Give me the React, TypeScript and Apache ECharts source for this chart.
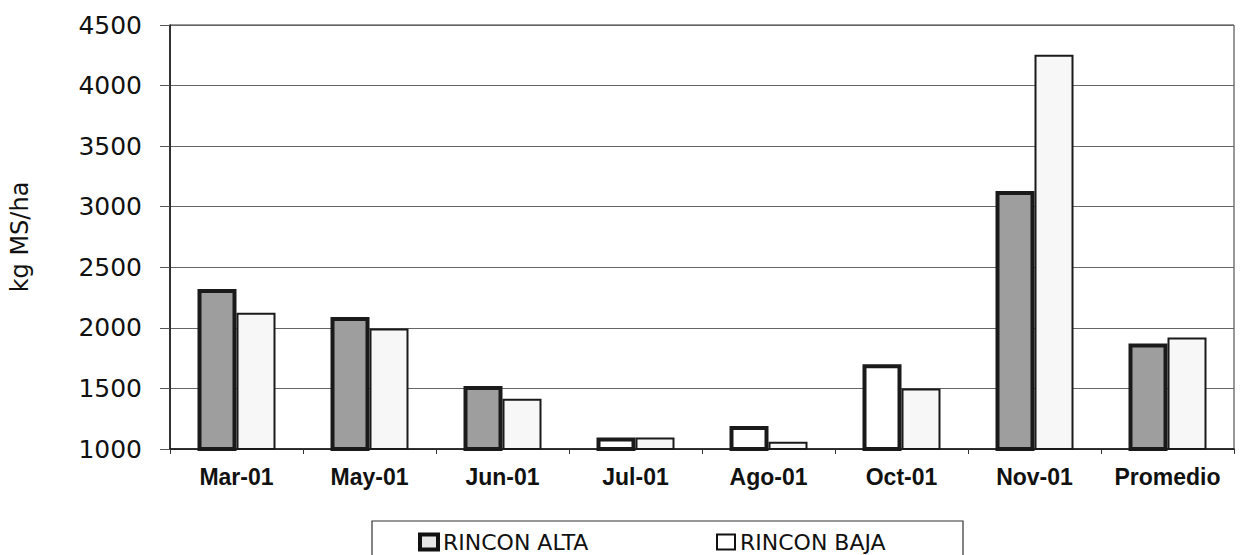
import React, { useEffect, useRef } from 'react';
import * as echarts from 'echarts';

const categories = ['Mar-01', 'May-01', 'Jun-01', 'Jul-01', 'Ago-01', 'Oct-01', 'Nov-01', 'Promedio'];
const rinconAlta = [2320, 2090, 1520, 1095, 1190, 1700, 3130, 1870];
const rinconBaja = [2125, 1995, 1415, 1095, 1060, 1500, 4255, 1920];
const hollowAltaCategories = ['Jul-01', 'Ago-01', 'Oct-01'];
const yMin = 1000;
const yMax = 4500;
const yStep = 500;

export default function App() {
  const ref = useRef<HTMLDivElement>(null);

  useEffect(() => {
    const chart = echarts.init(ref.current as HTMLDivElement, null, { renderer: 'svg' });
    chart.setOption({
      animation: false,
      backgroundColor: '#ffffff',
      grid: {
        left: 168,
        right: 10,
        top: 25,
        bottom: 106,
        show: true,
        borderColor: '#333',
        borderWidth: 1,
      },
      graphic: [
        {
          type: 'rect',
          shape: { x: 372, y: 521, width: 591, height: 60 },
          style: { fill: 'none', stroke: '#333', lineWidth: 1.2 },
        },
      ],
      legend: [
        {
          data: [
            {
              name: 'RINCON ALTA',
              itemStyle: { color: '#e6e6e6', borderColor: '#111', borderWidth: 4 },
            },
          ],
          left: 418,
          top: 531,
          icon: 'rect',
          itemWidth: 18,
          itemHeight: 15,
          selectedMode: false,
          padding: 0,
          textStyle: { fontFamily: 'DejaVu Sans', fontSize: 22, color: '#111', lineHeight: 18 },
        },
        {
          data: [
            {
              name: 'RINCON BAJA',
              itemStyle: { color: '#ffffff', borderColor: '#111', borderWidth: 2 },
            },
          ],
          left: 716,
          top: 531,
          icon: 'rect',
          itemWidth: 18,
          itemHeight: 15,
          selectedMode: false,
          padding: 0,
          textStyle: { fontFamily: 'DejaVu Sans', fontSize: 22, color: '#111', lineHeight: 18 },
        },
      ],
      xAxis: {
        type: 'category',
        data: categories,
        axisLine: { show: true, lineStyle: { color: '#111', width: 1.5 } },
        axisTick: { show: true, length: 5, lineStyle: { color: '#333' } },
        axisLabel: {
          interval: 0,
          margin: 16,
          fontFamily: 'Liberation Sans',
          fontWeight: 'bold',
          fontSize: 23,
          color: '#111',
        },
      },
      yAxis: {
        type: 'value',
        min: yMin,
        max: yMax,
        interval: yStep,
        name: 'kg MS/ha',
        nameLocation: 'middle',
        nameRotate: 90,
        nameGap: 138,
        nameTextStyle: { fontFamily: 'DejaVu Sans', fontSize: 24, color: '#111' },
        axisLine: { show: true, lineStyle: { color: '#111', width: 1.5 } },
        axisTick: { show: true, length: 10, lineStyle: { color: '#555' } },
        axisLabel: {
          margin: 28,
          fontFamily: 'DejaVu Sans',
          fontSize: 25,
          color: '#111',
          formatter: (v: number) => String(v),
        },
        splitLine: { show: true, lineStyle: { color: '#666', width: 1 } },
      },
      series: [
        {
          name: 'RINCON ALTA',
          type: 'bar',
          barWidth: 39,
          barGap: '0%',
          z: 3,
          data: rinconAlta.map((v, i) => ({
            value: v,
            itemStyle: { color: hollowAltaCategories.includes(categories[i]) ? '#ffffff' : '#9e9e9e' },
          })),
          itemStyle: { color: '#9e9e9e', borderColor: '#1a1a1a', borderWidth: 4 },
        },
        {
          name: 'RINCON BAJA',
          type: 'bar',
          barWidth: 39,
          barGap: '0%',
          z: 2,
          data: rinconBaja,
          itemStyle: { color: '#f7f7f7', borderColor: '#1a1a1a', borderWidth: 2 },
        },
      ],
    });
    return () => chart.dispose();
  }, []);

  return (
    <div
      ref={ref}
      style={{ position: 'absolute', left: 0, top: 0, width: 1244, height: 555, background: '#fff' }}
    />
  );
}
